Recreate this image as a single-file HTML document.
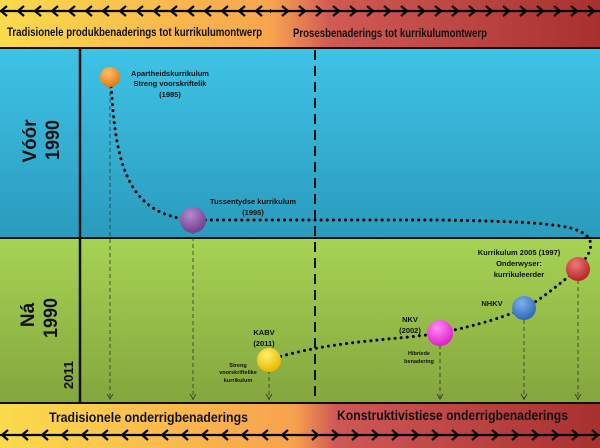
<!DOCTYPE html>
<html><head><meta charset="utf-8"><style>
html,body{margin:0;padding:0;width:600px;height:448px;overflow:hidden;background:#fff}
svg{display:block}
text{font-family:"Liberation Sans","DejaVu Sans",sans-serif;font-weight:bold;fill:#111}
</style></head><body>
<svg width="600" height="448" viewBox="0 0 600 448" xmlns="http://www.w3.org/2000/svg">
<defs>
<linearGradient id="tg" x1="0" x2="1" y1="0" y2="0">
<stop offset="0" stop-color="#fadb4c"/><stop offset="0.45" stop-color="#f8a54e"/><stop offset="0.55" stop-color="#d15a55"/><stop offset="1" stop-color="#a8302f"/></linearGradient>
<linearGradient id="bg2" x1="0" x2="1" y1="0" y2="0">
<stop offset="0" stop-color="#fadb4c"/><stop offset="0.49" stop-color="#f8a24e"/><stop offset="0.56" stop-color="#cf5755"/><stop offset="1" stop-color="#a8302f"/></linearGradient>
<linearGradient id="blue" x1="0" x2="0" y1="0" y2="1"><stop offset="0" stop-color="#3fc3e6"/><stop offset="1" stop-color="#2a9bbd"/></linearGradient>
<linearGradient id="green" x1="0" x2="0" y1="0" y2="1"><stop offset="0" stop-color="#a6d354"/><stop offset="1" stop-color="#84a63e"/></linearGradient>
<pattern id="la" width="17" height="12" patternUnits="userSpaceOnUse" x="0" y="5">
<path d="M0,6 H17 M7,1 L1,6 L7,11" stroke="#000" stroke-width="2.2" fill="none"/></pattern>
<pattern id="ra" width="17" height="12" patternUnits="userSpaceOnUse" x="0" y="5">
<path d="M0,6 H17 M10,1 L16,6 L10,11" stroke="#000" stroke-width="2.2" fill="none"/></pattern>
<pattern id="la2" width="20" height="12" patternUnits="userSpaceOnUse" x="0" y="429">
<path d="M0,6 H20 M8,1 L2,6 L8,11" stroke="#000" stroke-width="2.2" fill="none"/></pattern>
<pattern id="ra2" width="20" height="12" patternUnits="userSpaceOnUse" x="0" y="429">
<path d="M0,6 H20 M12,1 L18,6 L12,11" stroke="#000" stroke-width="2.2" fill="none"/></pattern>
<radialGradient id="o" cx="0.4" cy="0.3" r="0.7"><stop offset="0" stop-color="#ffc070"/><stop offset="1" stop-color="#e6780f"/></radialGradient>
<radialGradient id="p" cx="0.4" cy="0.3" r="0.7"><stop offset="0" stop-color="#b58ad0"/><stop offset="1" stop-color="#6f3f93"/></radialGradient>
<radialGradient id="y" cx="0.4" cy="0.3" r="0.7"><stop offset="0" stop-color="#fff06a"/><stop offset="1" stop-color="#e6b800"/></radialGradient>
<radialGradient id="m" cx="0.4" cy="0.3" r="0.7"><stop offset="0" stop-color="#ff8cf4"/><stop offset="1" stop-color="#e020cc"/></radialGradient>
<radialGradient id="b" cx="0.4" cy="0.3" r="0.7"><stop offset="0" stop-color="#7db2ec"/><stop offset="1" stop-color="#2d67b8"/></radialGradient>
<radialGradient id="r" cx="0.4" cy="0.3" r="0.7"><stop offset="0" stop-color="#f07878"/><stop offset="1" stop-color="#b52525"/></radialGradient>
</defs>
<rect x="0" y="0" width="600" height="48" fill="url(#tg)"/>
<rect x="0" y="48" width="600" height="190" fill="url(#blue)"/>
<rect x="0" y="238" width="600" height="165" fill="url(#green)"/>
<rect x="0" y="403" width="600" height="45" fill="url(#bg2)"/>
<rect x="0" y="5" width="270" height="12" fill="url(#la)"/>
<rect x="270" y="5" width="330" height="12" fill="url(#ra)"/>
<rect x="0" y="429" width="300" height="12" fill="url(#la2)"/>
<rect x="300" y="429" width="300" height="12" fill="url(#ra2)"/>
<text x="7" y="36" font-size="12" textLength="255" lengthAdjust="spacingAndGlyphs">Tradisionele produkbenaderings tot kurrikulumontwerp</text>
<text x="293" y="37" font-size="12" textLength="194" lengthAdjust="spacingAndGlyphs">Prosesbenaderings tot kurrikulumontwerp</text>
<text x="49" y="422" font-size="13.5" textLength="199" lengthAdjust="spacingAndGlyphs">Tradisionele onderrigbenaderings</text>
<text x="337" y="420" font-size="13.5" textLength="231" lengthAdjust="spacingAndGlyphs">Konstruktivistiese onderrigbenaderings</text>
<line x1="0" y1="48" x2="600" y2="48" stroke="#111" stroke-width="2"/>
<line x1="0" y1="238" x2="600" y2="238" stroke="#111" stroke-width="2"/>
<line x1="0" y1="403" x2="600" y2="403" stroke="#111" stroke-width="2"/>
<line x1="80" y1="48" x2="80" y2="403" stroke="#111" stroke-width="2.5"/>
<line x1="315" y1="50" x2="315" y2="403" stroke="#111" stroke-width="2" stroke-dasharray="10,6"/>
<g stroke="#333" stroke-width="0.8" stroke-dasharray="4,3" fill="none">
<line x1="110" y1="85" x2="110" y2="400"/><line x1="193" y1="230" x2="193" y2="400"/>
<line x1="269" y1="370" x2="269" y2="400"/><line x1="440" y1="345" x2="440" y2="400"/>
<line x1="524" y1="320" x2="524" y2="400"/><line x1="578" y1="280" x2="578" y2="400"/>
</g>
<g stroke="#333" stroke-width="0.8" fill="none">
<path d="M107,394 L110,399 L113,394 M190,394 L193,399 L196,394 M266,394 L269,399 L272,394 M437,394 L440,399 L443,394 M521,394 L524,399 L527,394 M575,394 L578,399 L581,394"/>
</g>
<g stroke="#000" stroke-width="3" stroke-dasharray="0.1,6" stroke-linecap="round" fill="none">
<path d="M111,80 C115,170 130,215 193,220"/>
<path d="M193,220 L440,220 C560,222 596,225 590,250 C587,258 583,262 578,266"/>
<path d="M269,360 C330,340 400,340 440,333 C480,325 510,315 524,308 C545,298 560,282 578,270"/>
</g>
<circle cx="110" cy="77" r="10" fill="url(#o)"/>
<circle cx="193" cy="220" r="13" fill="url(#p)"/>
<circle cx="269" cy="360" r="12" fill="url(#y)"/>
<circle cx="440" cy="333" r="13" fill="url(#m)"/>
<circle cx="524" cy="308" r="12" fill="url(#b)"/>
<circle cx="578" cy="269" r="12" fill="url(#r)"/>
<g font-size="7.5" text-anchor="middle">
<text x="170" y="76">Apartheidskurrikulum</text>
<text x="170" y="86">Streng voorskriftelik</text>
<text x="170" y="97">(1985)</text>
<text x="253" y="204">Tussentydse kurrikulum</text>
<text x="253" y="215">(1995)</text>
<text x="264" y="335">KABV</text>
<text x="264" y="346">(2011)</text>
<text x="410" y="322">NKV</text>
<text x="410" y="333">(2002)</text>
<text x="492" y="306">NHKV</text>
<text x="519" y="255">Kurrikulum 2005 (1997)</text>
<text x="519" y="266">Onderwyser:</text>
<text x="519" y="277">kurrikuleerder</text>
</g>
<g font-size="5.5" text-anchor="middle">
<text x="238" y="367">Streng</text><text x="238" y="374">voorskriftelike</text><text x="238" y="382">kurrikulum</text>
<text x="419" y="355">Hibriede</text><text x="419" y="363">benadering</text>
</g>
<text transform="translate(36,141) rotate(-90)" font-size="19" text-anchor="middle" textLength="43" lengthAdjust="spacingAndGlyphs">Vóór</text>
<text transform="translate(59,140) rotate(-90)" font-size="19" text-anchor="middle" textLength="40" lengthAdjust="spacingAndGlyphs">1990</text>
<text transform="translate(34,315) rotate(-90)" font-size="19" text-anchor="middle">Ná</text>
<text transform="translate(57,318) rotate(-90)" font-size="19" text-anchor="middle" textLength="40" lengthAdjust="spacingAndGlyphs">1990</text>
<text transform="translate(73,375) rotate(-90)" font-size="13" text-anchor="middle">2011</text>
</svg>
</body></html>
